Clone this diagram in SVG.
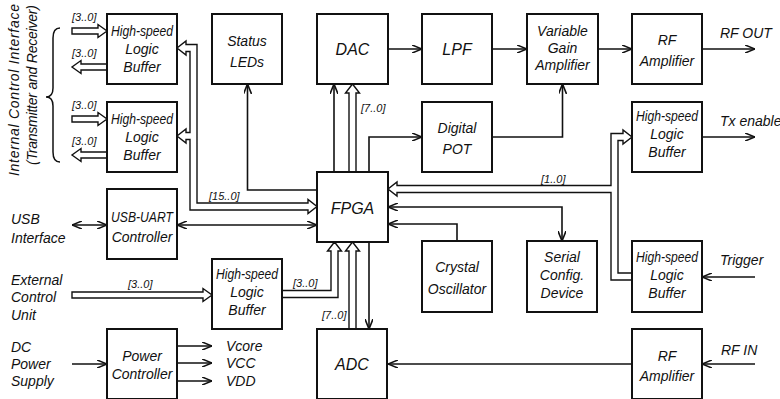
<svg xmlns="http://www.w3.org/2000/svg" width="780" height="399" viewBox="0 0 780 399">
<style>
.b{fill:#fff;stroke:#111;stroke-width:2}
.t{font-family:"Liberation Sans",Arial,sans-serif;font-style:italic;font-size:14px;fill:#111;text-anchor:middle}
.big{font-size:16px}
.l{text-anchor:start}
.s{font-size:11px;text-anchor:start}
.c{fill:none;stroke:#111;stroke-width:1.6}
.bus{fill:#fff;stroke:#111;stroke-width:1.4}
.nf{fill:none}
.e{marker-end:url(#a)}
.se{marker-start:url(#a);marker-end:url(#a)}
</style>
<defs>
<marker id="a" viewBox="0 0 10 8" refX="10" refY="4" markerWidth="10" markerHeight="8" markerUnits="userSpaceOnUse" orient="auto-start-reverse"><path d="M0,0 L10,4 L0,8" fill="none" stroke="#111" stroke-width="1.6"/></marker>
</defs>
<rect width="780" height="399" fill="#fff"/>

<g id="connectors">
<path class="c e" d="M388,49 H422"/>
<path class="c e" d="M492,49 H527"/>
<path class="c e" d="M598,49 H632"/>
<path class="c e" d="M702,49 H755"/>
<path class="c e" d="M334,172 V84"/>
<path class="c e" d="M369,172 V137 H422"/>
<path class="c e" d="M492,137 H562.5 V84"/>
<path class="c e" d="M317,190 H247.5 V84"/>
<path class="c e" d="M369,242 V329"/>
<path class="c e" d="M755,364 H702"/>
<path class="c e" d="M632,364 H388"/>
<path class="c e" d="M755,277 H702"/>
<path class="c e" d="M702,137 H755"/>
<path class="c se" d="M388,207 H562 V241"/>
<path class="c e" d="M457,241 V224 H388"/>
<path class="c se" d="M72,225 H107"/>
<path class="c se" d="M177,225 H317"/>
<path class="c e" d="M72,364 H107"/>
<path class="c e" d="M177,346 H212"/>
<path class="c e" d="M177,363 H212"/>
<path class="c e" d="M177,381 H212"/>
<path class="bus" d="M72,28 H98 V24.5 L107,31 L98,37.5 V34 H72 Z"/>
<path class="bus" d="M107,64 H81 V60.5 L72,67 L81,73.5 V70 H107"/>
<path class="bus" d="M72,116 H98 V112.5 L107,119 L98,125.5 V122 H72 Z"/>
<path class="bus" d="M107,152 H81 V148.5 L72,155 L81,161.5 V158 H107"/>
<path class="bus" d="M72,292 H203 V288.5 L212,295 L203,301.5 V298 H72 Z"/>
<path class="bus nf" d="M190,51.5 H186 V55 L177,48 L186,41 V44.5 H197 V203 H308 V199.5 L317,206.5 L308,213.5 V210 H190 V139.5 H186 V143 L177,136 L186,129 V132.5 H190 Z"/>
<path class="bus" d="M349,172 V93 H345.5 L352.5,84 L359.5,93 H356 V172"/>
<path class="bus" d="M349,329 V251 H345.5 L352.5,242 L359.5,251 H356 V329"/>
<path class="bus nf" d="M282,290.5 H331 V251 H327.5 L334.5,242 L341.5,251 H338 V297.5 H282"/>
<path class="bus nf" d="M632,280 H611 V192.5 H397 V196 L388,189 L397,182 V185.5 H611 V133.5 H623 V130 L632,137 L623,144 V140.5 H618 V273 H632"/>
<path class="c" style="stroke-width:1.5" d="M60,28 Q53,28 53,38 V88 Q53,97 46,97 Q53,97 53,106 V152 Q53,162 60,162"/>
</g>

<g id="labels">
<text class="t s" x="72" y="21">[3..0]</text>
<text class="t s" x="72" y="57">[3..0]</text>
<text class="t s" x="72" y="109">[3..0]</text>
<text class="t s" x="72" y="145">[3..0]</text>
<text class="t s" x="209" y="200">[15..0]</text>
<text class="t s" x="361" y="112">[7..0]</text>
<text class="t s" x="322" y="319">[7..0]</text>
<text class="t s" x="293" y="287">[3..0]</text>
<text class="t s" x="128" y="288">[3..0]</text>
<text class="t s" x="541" y="183">[1..0]</text>
<text class="t" transform="translate(19,90) rotate(-90)" textLength="172" lengthAdjust="spacing">Internal Control Interface</text>
<text class="t" transform="translate(37,85) rotate(-90)" textLength="160" lengthAdjust="spacing">(Transmitter and Receiver)</text>
<text class="t l" x="11" y="224">USB</text>
<text class="t l" x="11" y="243">Interface</text>
<text class="t l" x="11" y="285">External</text>
<text class="t l" x="11" y="302">Control</text>
<text class="t l" x="11" y="320">Unit</text>
<text class="t l" x="11" y="352">DC</text>
<text class="t l" x="11" y="369">Power</text>
<text class="t l" x="11" y="386">Supply</text>
<text class="t l" x="226" y="351">Vcore</text>
<text class="t l" x="226" y="368">VCC</text>
<text class="t l" x="226" y="386">VDD</text>
<text class="t l" x="720" y="38">RF OUT</text>
<text class="t l" x="720" y="126">Tx enable</text>
<text class="t l" x="720" y="265">Trigger</text>
<text class="t l" x="721" y="355">RF IN</text>
</g>

<g id="hslb1"><rect class="b" x="107" y="14" width="70" height="70"/>
<text class="t" x="142" y="36" textLength="62" lengthAdjust="spacingAndGlyphs">High-speed</text><text class="t" x="142" y="54">Logic</text><text class="t" x="142" y="72">Buffer</text></g>
<g id="hslb2"><rect class="b" x="107" y="102" width="70" height="70"/>
<text class="t" x="142" y="124" textLength="62" lengthAdjust="spacingAndGlyphs">High-speed</text><text class="t" x="142" y="142">Logic</text><text class="t" x="142" y="160">Buffer</text></g>
<g id="status"><rect class="b" x="212" y="14" width="70" height="70"/>
<text class="t" x="247" y="46">Status</text><text class="t" x="247" y="67">LEDs</text></g>
<g id="dac"><rect class="b" x="317" y="14" width="71" height="70"/>
<text class="t big" x="352.5" y="55">DAC</text></g>
<g id="lpf"><rect class="b" x="422" y="14" width="70" height="70"/>
<text class="t big" x="457" y="55">LPF</text></g>
<g id="vga"><rect class="b" x="527" y="14" width="71" height="70"/>
<text class="t" x="562.5" y="36">Variable</text><text class="t" x="562.5" y="53">Gain</text><text class="t" x="562.5" y="70">Amplifier</text></g>
<g id="rfamp1"><rect class="b" x="632" y="14" width="70" height="70"/>
<text class="t" x="667" y="45">RF</text><text class="t" x="667" y="66">Amplifier</text></g>
<g id="pot"><rect class="b" x="422" y="102" width="70" height="70"/>
<text class="t" x="457" y="133">Digital</text><text class="t" x="457" y="154">POT</text></g>
<g id="hslbtx"><rect class="b" x="632" y="102" width="70" height="70"/>
<text class="t" x="667" y="121" textLength="62" lengthAdjust="spacingAndGlyphs">High-speed</text><text class="t" x="667" y="139">Logic</text><text class="t" x="667" y="157">Buffer</text></g>
<g id="fpga"><rect class="b" x="317" y="172" width="71" height="70"/>
<text class="t big" x="352.5" y="214">FPGA</text></g>
<g id="usbuart"><rect class="b" x="107" y="189" width="70" height="70"/>
<text class="t" x="142" y="222" textLength="62" lengthAdjust="spacingAndGlyphs">USB-UART</text><text class="t" x="142" y="242">Controller</text></g>
<g id="crystal"><rect class="b" x="422" y="241" width="70" height="71"/>
<text class="t" x="457" y="272">Crystal</text><text class="t" x="457" y="294">Oscillator</text></g>
<g id="serial"><rect class="b" x="527" y="241" width="70" height="71"/>
<text class="t" x="562" y="262">Serial</text><text class="t" x="562" y="280">Config.</text><text class="t" x="562" y="298">Device</text></g>
<g id="hslbtrig"><rect class="b" x="632" y="241" width="70" height="71"/>
<text class="t" x="667" y="262" textLength="62" lengthAdjust="spacingAndGlyphs">High-speed</text><text class="t" x="667" y="280">Logic</text><text class="t" x="667" y="298">Buffer</text></g>
<g id="hslbext"><rect class="b" x="212" y="259" width="70" height="70"/>
<text class="t" x="247" y="279" textLength="62" lengthAdjust="spacingAndGlyphs">High-speed</text><text class="t" x="247" y="297">Logic</text><text class="t" x="247" y="315">Buffer</text></g>
<g id="power"><rect class="b" x="107" y="329" width="70" height="70"/>
<text class="t" x="142" y="361">Power</text><text class="t" x="142" y="379">Controller</text></g>
<g id="adc"><rect class="b" x="317" y="329" width="70" height="70"/>
<text class="t big" x="352" y="370">ADC</text></g>
<g id="rfamp2"><rect class="b" x="632" y="329" width="70" height="70"/>
<text class="t" x="667" y="361">RF</text><text class="t" x="667" y="381">Amplifier</text></g>
</svg>
